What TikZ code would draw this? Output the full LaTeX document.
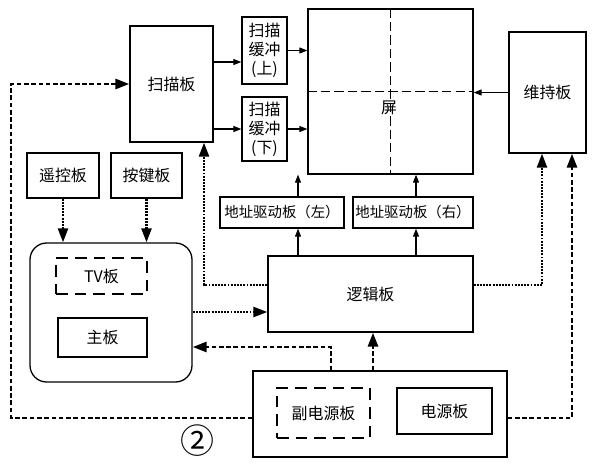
\documentclass[tikz,border=0pt]{standalone}
\usepackage{fontspec}
\setmainfont{Noto Sans CJK SC}
\usepackage{tikz}
\usetikzlibrary{arrows.meta,positioning,calc}

\begin{document}
\begin{tikzpicture}[x=0.03cm,y=-0.03cm,every node/.style={font=\fontsize{13.6}{16.2}\selectfont,align=center,inner sep=0pt},box/.style={draw,line width=1.1pt},dashbox/.style={draw,line width=1.1pt,dash pattern=on 10pt off 6pt},solidarrow/.style={-{Triangle[length=2.4mm,width=1.8mm]},line width=0.9pt},dotarrow/.style={-{Triangle[length=4.2mm,width=3mm]},line width=2pt,dash pattern=on 1.6pt off 1.1pt},dasharrow/.style={-{Triangle[length=4.2mm,width=3mm]},line width=2.3pt,dash pattern=on 4pt off 2.2pt}]
\useasboundingbox (0,0) rectangle (598,472);
\node[box,minimum width=2.49cm,minimum height=3.48cm] (scan) at (171.5,84) {扫描板};
\node[box,minimum width=1.35cm,minimum height=2.01cm] (bufU) at (264.5,50.5) {扫描\\缓冲\\(上)};
\node[box,minimum width=1.35cm,minimum height=1.92cm] (bufD) at (264.5,129) {扫描\\缓冲\\(下)};
\node[box,minimum width=4.95cm,minimum height=4.95cm] (screen) at (390.5,91.5) {};
\node (scrname) at (389,108) {屏};
\node[box,minimum width=2.31cm,minimum height=3.63cm] (sustain) at (547.5,92.5) {维持板};
\node[box,minimum width=3.72cm,minimum height=0.93cm,font=\fontsize{12.3}{14}\selectfont] (addrL) at (282,212.5) {地址驱动板（左）};
\node[box,minimum width=3.6cm,minimum height=0.93cm,font=\fontsize{12.3}{14}\selectfont] (addrR) at (413,212.5) {地址驱动板（右）};
\node[box,minimum width=6.15cm,minimum height=2.28cm] (logic) at (370.5,294) {逻辑板};
\node[box,minimum width=2.16cm,minimum height=1.35cm] (remote) at (63,175.5) {遥控板};
\node[box,minimum width=2.13cm,minimum height=1.35cm] (keys) at (146.5,175.5) {按键板};
\node[box,rounded corners=0.5cm,minimum width=4.86cm,minimum height=4.17cm] (cont) at (111,312.5) {};
\node[dashbox,minimum width=2.73cm,minimum height=1.08cm] (tv) at (101.5,276) {TV板};
\node[box,minimum width=2.67cm,minimum height=1.17cm] (mainb) at (102.5,337.5) {主板};
\node[box,minimum width=7.62cm,minimum height=2.58cm] (power) at (380,414) {};
\node[dashbox,minimum width=2.79cm,minimum height=1.5cm] (subpwr) at (323.5,413) {副电源板};
\node[box,minimum width=2.85cm,minimum height=1.38cm] (pwr) at (444.5,411) {电源板};
\node[font=\fontsize{29}{32}\selectfont] (num) at (197,441) {②};
\draw[line width=1.4pt,dash pattern=on 8pt off 3.5pt] (screen.north) -- (screen.south);
\draw[line width=1.4pt,dash pattern=on 8pt off 3.5pt] (screen.west) -- (screen.east);
\draw[solidarrow] (scan.east |- 0,62) -- (bufU.west |- 0,62);
\draw[solidarrow] (scan.east |- bufD.west) -- (bufD.west);
\draw[solidarrow] (bufU.east) -- (screen.west |- bufU.east);
\draw[solidarrow] (bufD.east) -- (screen.west |- bufD.east);
\draw[solidarrow] (sustain.west) -- (screen.east |- sustain.west);
\draw[solidarrow] (logic.north -| 298,0) -- (addrL.south -| 298,0);
\draw[solidarrow] (addrL.north -| 298,0) -- (298,0 |- screen.south);
\draw[solidarrow] (logic.north -| 416,0) -- (addrR.south -| 416,0);
\draw[solidarrow] (addrR.north -| 416,0) -- (screen.south -| 416,0);
\draw[dotarrow] (remote.south) -- (remote.south |- cont.north);
\draw[dotarrow] (keys.south) -- (keys.south |- cont.north);
\draw[dotarrow] (logic.west |- 0,285) -| (scan.south -| 204,0);
\draw[dotarrow] (cont.east |- 0,312) -- (logic.west |- 0,312);
\draw[dasharrow] (power.north -| 331,0) |- (cont.east |- 0,347);
\draw[dasharrow] (power.north -| 373,0) -- (logic.south -| 373,0);
\draw[dotarrow] (logic.east |- 0,285) -| (sustain.south -| 542,0);
\draw[dasharrow] (power.east |- 0,418) -| (sustain.south -| 572,0);
\draw[dasharrow] (power.west |- 0,418) -| (11,0 |- scan.west) -- (scan.west);
\end{tikzpicture}
\end{document}
